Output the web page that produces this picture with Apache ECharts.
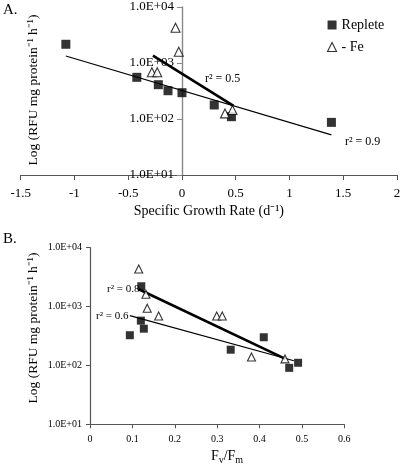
<!DOCTYPE html>
<html><head><meta charset="utf-8">
<script src="https://cdn.jsdelivr.net/npm/echarts@6/dist/echarts.min.js"></script>
<style>html,body{margin:0;padding:0;background:#fff}#c{width:400px;height:465px}</style>
</head><body><div id="c"></div>
<script>
// Panel A: specific growth rate vs log RFU
const xTicksA = [-1.5, -1, -0.5, 0, 0.5, 1, 1.5, 2];
const repleteA_x = [-1.08, -0.42, -0.22, -0.13, 0.00, 0.30, 0.46, 1.39];
const repleteA_y = [2160, 555, 410, 320, 295, 178, 110, 87];
const feA_x = [-0.06, -0.03, -0.28, -0.23, 0.40, 0.47];
const feA_y = [4260, 1590, 683, 683, 126, 145];
const fitRepleteA_x = [-1.08, 1.39];
const fitRepleteA_y = [1334, 52];
const fitFeA_x = [-0.27, 0.48];
const fitFeA_y = [1350, 171];
// Panel B: Fv/Fm vs log RFU
const xTicksB = [0, 0.1, 0.2, 0.3, 0.4, 0.5, 0.6];
const repleteB_x = [0.121, 0.120, 0.127, 0.094, 0.332, 0.41, 0.47, 0.491];
const repleteB_y = [2213, 577, 421, 326, 185, 301, 91, 111];
const feB_x = [0.115, 0.132, 0.135, 0.162, 0.299, 0.312, 0.381, 0.46];
const feB_y = [4350, 1620, 935, 692, 692, 692, 139, 129];
const fitRepleteB_x = [0.094, 0.481];
const fitRepleteB_y = [700, 120];
const fitFeB_x = [0.115, 0.461];
const fitFeB_y = [1968, 129];
const yTickLabels = ['1.0E+01', '1.0E+02', '1.0E+03', '1.0E+04'];
const legendNames = ['Replete', '- Fe'];
const r2A = ['r\u00b2 = 0.5', 'r\u00b2 = 0.9'];
const r2B = ['r\u00b2 = 0.8', 'r\u00b2 = 0.6'];

const F = 'Liberation Serif, Times New Roman, serif';
const zip = (xs, ys) => xs.map((x, i) => [x, ys[i]]);
const yFmt = v => yTickLabels[Math.round(Math.log10(v)) - 1] || '';

const gridA = {left: 20.7, top: 7, width: 376.3, height: 168};
// move panel A's y axis to x = 0 of its x axis
const zeroOffsetA = -(0 - xTicksA[0]) / (xTicksA[xTicksA.length - 1] - xTicksA[0]) * gridA.width;

const chart = echarts.init(document.getElementById('c'), null, {renderer: 'canvas'});
const sq = (name, xi, data, size) => ({name, type: 'scatter', xAxisIndex: xi, yAxisIndex: xi, data,
  symbol: 'rect', symbolSize: size, itemStyle: {color: '#000'}, z: 5});
const tri = (name, xi, data, size) => ({name, type: 'scatter', xAxisIndex: xi, yAxisIndex: xi, data,
  symbol: 'triangle', symbolSize: size, itemStyle: {color: '#fff', borderColor: '#000', borderWidth: 1.1}, z: 6});
const fit = (xi, data, w) => ({type: 'line', xAxisIndex: xi, yAxisIndex: xi, data, showSymbol: false,
  symbol: 'none', lineStyle: {color: '#000', width: w}, z: 4, silent: true});

chart.setOption({
  animation: false,
  textStyle: {fontFamily: F},
  grid: [
    Object.assign({containLabel: false, outerBoundsMode: 'none'}, gridA),
    {left: 90, top: 247.7, width: 254.3, height: 176.6, containLabel: false, outerBoundsMode: 'none'}
  ],
  legend: {
    data: [
      {name: legendNames[0], icon: 'rect'},
      {name: legendNames[1], icon: 'triangle', itemStyle: {color: '#fff', borderColor: '#000', borderWidth: 1.1}}
    ],
    orient: 'vertical', left: 325, top: 16, itemWidth: 9, itemHeight: 9, itemGap: 8, padding: 2,
    textStyle: {fontFamily: F, fontSize: 14, color: '#000'}
  },
  xAxis: [
    {type: 'value', gridIndex: 0, min: xTicksA[0], max: xTicksA[xTicksA.length - 1], interval: 0.5,
      splitLine: {show: false},
      axisLine: {onZero: false, lineStyle: {color: '#555', width: 1.2}},
      axisTick: {show: true, length: 5, lineStyle: {color: '#555'}},
      axisLabel: {fontFamily: F, fontSize: 13, color: '#000', margin: 12, hideOverlap: false},
      name: 'Specific Growth Rate (d\u207b\u00b9)', nameLocation: 'middle', nameGap: 29,
      nameTextStyle: {fontFamily: F, fontSize: 14, color: '#000'}},
    {type: 'value', gridIndex: 1, min: xTicksB[0], max: xTicksB[xTicksB.length - 1], interval: 0.1,
      splitLine: {show: false},
      axisLine: {onZero: false, lineStyle: {color: '#555', width: 1.2}},
      axisTick: {show: true, length: 4, lineStyle: {color: '#555'}},
      axisLabel: {fontFamily: F, fontSize: 10, color: '#000', margin: 10}}
  ],
  yAxis: [
    {type: 'log', gridIndex: 0, logBase: 10, min: 10, max: 10000, offset: zeroOffsetA,
      splitLine: {show: false}, minorTick: {show: false},
      axisLine: {show: true, onZero: false, lineStyle: {color: '#888', width: 1.4}},
      axisTick: {show: true, length: 5, lineStyle: {color: '#888'}},
      axisLabel: {fontFamily: F, fontSize: 13, color: '#000', margin: 8, formatter: yFmt}},
    {type: 'log', gridIndex: 1, logBase: 10, min: 10, max: 10000,
      splitLine: {show: false}, minorTick: {show: false},
      axisLine: {show: true, onZero: false, lineStyle: {color: '#555', width: 1.2}},
      axisTick: {show: true, length: 4, lineStyle: {color: '#555'}},
      axisLabel: {fontFamily: F, fontSize: 10, color: '#000', margin: 8, formatter: yFmt}}
  ],
  series: [
    sq(legendNames[0], 0, zip(repleteA_x, repleteA_y), 9),
    tri(legendNames[1], 0, zip(feA_x, feA_y), 9),
    fit(0, zip(fitRepleteA_x, fitRepleteA_y), 1.2),
    fit(0, zip(fitFeA_x, fitFeA_y), 2.6),
    sq(legendNames[0], 1, zip(repleteB_x, repleteB_y), 8),
    tri(legendNames[1], 1, zip(feB_x, feB_y), 8),
    fit(1, zip(fitRepleteB_x, fitRepleteB_y), 1.2),
    fit(1, zip(fitFeB_x, fitFeB_y), 2.6)
  ],
  graphic: [
    {type: 'text', left: 3, top: 3, style: {text: 'A.', font: '15px ' + F, fill: '#000'}},
    {type: 'text', left: 3, top: 232, style: {text: 'B.', font: '15px ' + F, fill: '#000'}},
    {type: 'text', x: 33, y: 90, rotation: Math.PI / 2,
      style: {text: 'Log (RFU mg protein\u207b\u00b9 h\u207b\u00b9)', font: '13.5px ' + F, fill: '#000', align: 'center', verticalAlign: 'middle'}},
    {type: 'text', x: 33, y: 328, rotation: Math.PI / 2,
      style: {text: 'Log (RFU mg protein\u207b\u00b9 h\u207b\u00b9)', font: '13.5px ' + F, fill: '#000', align: 'center', verticalAlign: 'middle'}},
    {type: 'text', x: 205, y: 79, style: {text: r2A[0], font: '12px ' + F, fill: '#000', verticalAlign: 'middle'}},
    {type: 'text', x: 345, y: 142, style: {text: r2A[1], font: '12px ' + F, fill: '#000', verticalAlign: 'middle'}},
    {type: 'text', x: 107, y: 289, style: {text: r2B[0], font: '11px ' + F, fill: '#000', verticalAlign: 'middle'}},
    {type: 'text', x: 96, y: 316, style: {text: r2B[1], font: '11px ' + F, fill: '#000', verticalAlign: 'middle'}},
    {type: 'text', x: 227, y: 456, style: {
      text: 'F{s|v}/F{s|m}', align: 'center', verticalAlign: 'middle',
      font: '14px ' + F, fill: '#000',
      rich: {s: {fontSize: 10, fontFamily: F, padding: [8, 0, 0, 0]}}}}
  ]
});
</script></body></html>
